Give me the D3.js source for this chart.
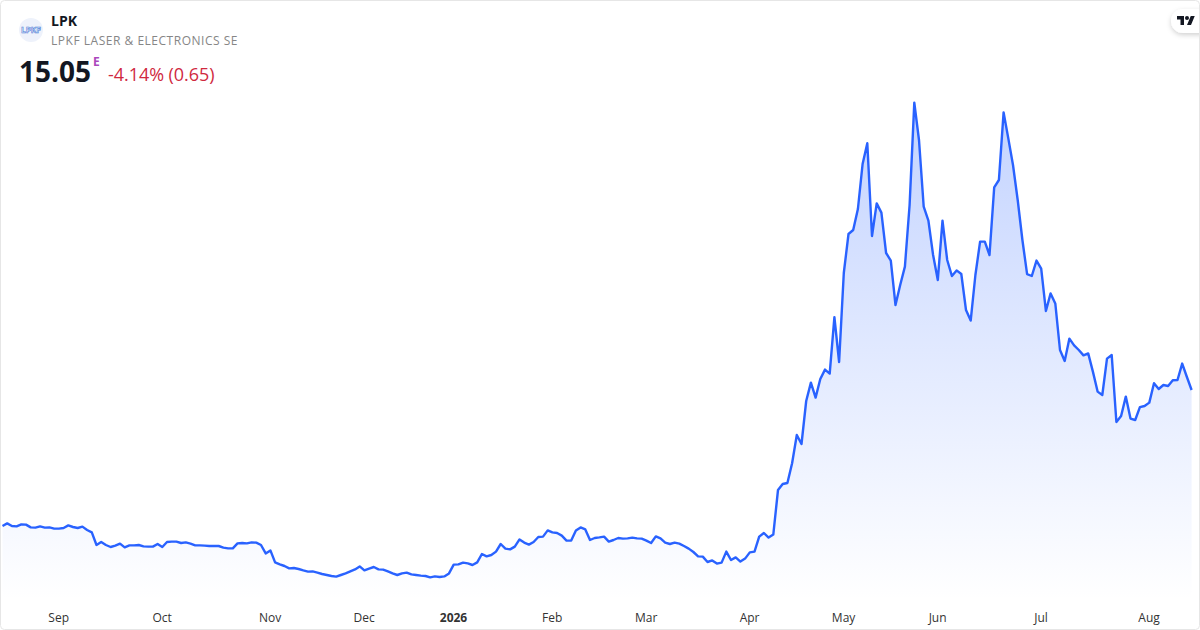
<!DOCTYPE html>
<html>
<head>
<meta charset="utf-8">
<style>
  html, body { margin: 0; padding: 0; background: #fff; }
  svg { display: block; font-family: "Open Sans", sans-serif; }
</style>
<script src="https://d3js.org/d3.v7.min.js"></script>
</head>
<body>
<svg width="1200" height="630"></svg>
<script>
// daily closes, one per trading day
var prices = [
  8.25,8.38,8.25,8.23,8.33,8.32,8.18,8.17,8.23,8.17,8.18,8.12,8.12,8.15,8.28,8.20,8.15,8.22,8.05,7.93,
  7.30,7.45,7.30,7.20,7.27,7.37,7.18,7.28,7.28,7.30,7.23,7.22,7.22,7.35,7.20,7.45,7.47,7.47,7.40,7.43,
  7.37,7.28,7.28,7.27,7.25,7.25,7.25,7.17,7.13,7.13,7.38,7.40,7.38,7.43,7.42,7.30,6.88,7.03,6.43,6.33,
  6.25,6.13,6.15,6.10,6.03,5.97,5.98,5.92,5.85,5.80,5.75,5.72,5.80,5.88,5.98,6.08,6.23,6.03,6.12,6.20,
  6.08,6.07,5.98,5.88,5.80,
  5.88,5.92,5.83,5.80,5.77,5.75,5.68,5.73,5.70,5.73,5.88,6.32,6.33,6.42,6.38,6.30,6.43,6.85,6.73,6.80,
  6.97,7.35,7.12,7.08,7.22,7.58,7.42,7.32,7.45,7.70,7.72,8.03,7.93,7.90,7.77,7.52,7.52,8.02,8.18,8.08,
  7.55,7.65,7.68,7.72,7.47,7.55,7.65,7.62,7.63,7.67,7.63,7.62,7.52,7.40,7.73,7.63,7.42,7.35,7.42,7.37,
  7.25,7.12,6.95,6.73,6.72,6.45,6.53,6.37,6.42,6.97,6.55,6.68,6.47,6.62,6.93,6.97,7.72,7.90,7.67,7.82,
  10.05,10.35,10.40,11.39,12.80,12.35,14.50,15.42,14.67,15.60,16.07,15.87,18.69,16.45,20.90,22.85,23.05,24.10,26.35,27.39,
  22.75,24.38,23.92,21.90,21.52,19.30,20.30,21.22,24.30,29.42,27.55,24.22,23.52,21.80,20.55,23.52,21.55,20.75,21.03,20.85,
  19.05,18.52,20.80,22.47,22.47,21.80,25.18,25.55,28.93,27.63,26.30,24.55,22.55,20.84,20.75,21.52,21.12,19.00,19.88,19.38,
  17.05,16.50,17.62,17.28,17.05,16.78,16.88,15.97,14.97,14.80,16.62,16.80,13.45,13.75,14.72,13.62,13.55,14.19,14.25,14.42,
  15.39,15.10,15.30,15.25,15.54,15.55,16.37,15.70,15.05
];
// first trading day of each month, as position in prices
var tickIndex = [12, 34, 57, 77, 96, 117, 137, 159, 179, 199, 221, 244];
var tickLabels = ["Sep", "Oct", "Nov", "Dec", "2026", "Feb", "Mar", "Apr", "May", "Jun", "Jul", "Aug"];

var svg = d3.select("svg"),
    width = +svg.attr("width"),
    height = +svg.attr("height");

var x = d3.scaleLinear().domain([0, prices.length - 1]).range([2.5, 1191.6]);
var y = d3.scaleLinear().domain([4.55, 29.55]).range([600, 100]);

var defs = svg.append("defs");
var grad = defs.append("linearGradient")
    .attr("id", "fade").attr("x1", 0).attr("x2", 0).attr("y1", 0).attr("y2", 1);
grad.append("stop").attr("offset", 0).attr("stop-color", "#2962ff").attr("stop-opacity", 0.28);
grad.append("stop").attr("offset", 1).attr("stop-color", "#2962ff").attr("stop-opacity", 0);

var shadow = defs.append("filter").attr("id", "badge")
    .attr("x", "-40%").attr("y", "-40%").attr("width", "180%").attr("height", "180%");
shadow.append("feDropShadow").attr("dx", 0).attr("dy", 2).attr("stdDeviation", 2.5)
    .attr("flood-color", "#000").attr("flood-opacity", 0.18);

svg.append("clipPath").attr("id", "card").append("rect")
    .attr("x", 0.5).attr("y", 0.5).attr("width", width - 1).attr("height", height - 1).attr("rx", 4);

// area + line
var area = d3.area().x(function(d, i) { return x(i); }).y0(y(4.55)).y1(function(d) { return y(d); });
var line = d3.line().x(function(d, i) { return x(i); }).y(function(d) { return y(d); });

svg.append("path").datum(prices).attr("d", area).attr("fill", "url(#fade)");
svg.append("path").datum(prices).attr("d", line)
    .attr("fill", "none").attr("stroke", "#2962ff").attr("stroke-width", 2.4).attr("stroke-linejoin", "round");

// month labels
var axis = d3.axisBottom(x)
    .tickValues(tickIndex)
    .tickSize(0)
    .tickPadding(0)
    .tickFormat(function(d, i) { return tickLabels[i]; });
var gx = svg.append("g").attr("transform", "translate(-0.7,613)").call(axis);
gx.select(".domain").remove();
gx.selectAll("text")
    .attr("dy", "0.71em")
    .attr("font-family", '"Open Sans", sans-serif')
    .attr("font-size", 12)
    .attr("fill", "#333")
    .attr("font-weight", function(d, i) { return tickLabels[i] === "2026" ? 700 : 400; });

// header
svg.append("circle").attr("cx", 31).attr("cy", 30).attr("r", 12).attr("fill", "#eef2fb");
svg.append("text").attr("x", 31).attr("y", 33).attr("text-anchor", "middle")
    .attr("font-size", 8.5).attr("font-weight", 700).attr("fill", "#fff")
    .attr("stroke", "#4f7fd8").attr("stroke-width", 0.6).attr("textLength", 20).text("LPKF");
svg.append("text").attr("x", 51).attr("y", 26).attr("font-size", 14).attr("font-weight", 700)
    .attr("fill", "#131722").text("LPK");
svg.append("text").attr("x", 51).attr("y", 45).attr("font-size", 12).attr("fill", "#868686")
    .attr("letter-spacing", 0.52).text("LPKF LASER & ELECTRONICS SE");
svg.append("text").attr("x", 19).attr("y", 82).attr("font-size", 28).attr("font-weight", 700)
    .attr("fill", "#131722").text("15.05");
svg.append("text").attr("x", 93).attr("y", 66).attr("font-size", 12).attr("font-weight", 700)
    .attr("fill", "#ab47bc").text("E");
svg.append("text").attr("x", 108).attr("y", 81).attr("font-size", 18)
    .attr("fill", "#d0293f").attr("letter-spacing", -0.05).text("-4.14% (0.65)");

// tradingview badge
var badge = svg.append("g").attr("clip-path", "url(#card)");
badge.append("rect").attr("x", 1171).attr("y", 9).attr("width", 50).attr("height", 24).attr("rx", 12)
    .attr("fill", "#fff").attr("filter", "url(#badge)");
var tv = badge.append("g").attr("transform", "translate(1177,14) scale(0.5)").attr("fill", "#131722");
tv.append("path").attr("d", "M14 22H7V11H0V4h14v18zM28 22h-8l7.5-18h8L28 22z");
tv.append("circle").attr("cx", 20).attr("cy", 8).attr("r", 4);

// card border
svg.append("rect").attr("x", 0.5).attr("y", 0.5).attr("width", width - 1).attr("height", height - 1)
    .attr("rx", 4).attr("fill", "none").attr("stroke", "#e6e6e6");
</script>
</body>
</html>
